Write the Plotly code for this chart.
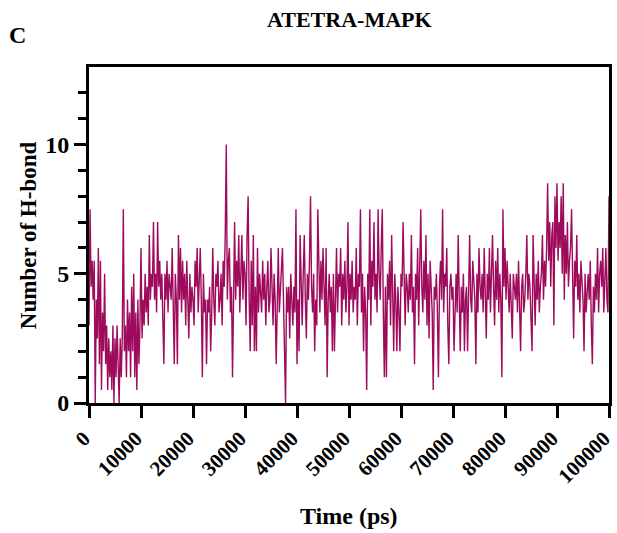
import plotly.graph_objects as go

TIME_STEP_PS = 200

seg_00000 = [3, 7.5, 4.5, 5.5, 4, 5.5, 0, 4, 2.5, 6,
             1.5, 5.5, 0.5, 3.5, 2, 5, 1.5, 3, 0.5, 2.5,
             1, 2, 0.5, 3, 0, 2.5, 1, 3, 1.5, 0,
             2.5, 1, 2.5, 7.5, 2, 3, 1, 4, 2, 3.5,
             1, 4.5, 2, 5, 1, 3.5, 0.5, 4, 1.5, 3]
seg_10000 = [6, 2.5, 4, 3, 5, 3.5, 4.5, 3, 6.5, 4,
             5, 4.5, 7, 4, 5, 3.5, 7, 4.5, 5.5, 4,
             5, 3.5, 1.5, 5, 4, 5.5, 3.5, 5, 4.5, 4,
             6, 3, 1.5, 5, 4, 1.5, 6.5, 4, 6, 3.5,
             5.5, 4, 5, 3, 5.5, 4, 2.5, 5, 3.5, 4.5]
seg_20000 = [4, 3, 5.5, 4.5, 6, 3.5, 5, 6, 4, 1,
             5, 3.5, 4, 1.5, 4, 3.5, 4.5, 2, 3.5, 6,
             4, 3, 5, 4.5, 5.5, 3.5, 4, 5, 3, 5.5,
             4.5, 6.5, 10, 4, 5.5, 6, 3.5, 4.5, 1, 5,
             7, 4, 5.5, 4.5, 6.5, 3.5, 5, 6.5, 4, 5.5]
seg_30000 = [5, 3, 6.5, 8, 4, 2, 5.5, 3, 6.5, 2,
             4.5, 2, 6, 3.5, 5, 4, 3.5, 5.5, 4, 5,
             3, 4.5, 5.5, 3.5, 4, 6, 4.5, 3, 5, 4,
             1.5, 5, 6, 3.5, 4.5, 5, 6, 4, 2, 0,
             4.5, 3.5, 4.5, 2.5, 5, 4, 3, 4.5, 3.5, 7.5]
seg_40000 = [1.5, 4, 2, 6.5, 4.5, 3, 5, 6.5, 4, 2.5,
             5, 4, 5.5, 8, 4.5, 3.5, 5, 2, 4, 3,
             7.5, 4.5, 3.5, 5.5, 4, 6, 4.5, 3, 6, 1,
             4, 5, 3.5, 4.5, 2, 5, 2, 4, 6, 3.5,
             5, 4.5, 6, 3, 5, 4, 5.5, 3.5, 4.5, 7]
seg_50000 = [3, 5, 4, 5.5, 3.5, 4.5, 4, 6, 3, 5,
             4.5, 7.5, 3.5, 5, 2, 4.5, 3.5, 0.5, 5, 4,
             7.5, 3, 5.5, 4.5, 7, 4, 5, 3.5, 7.5, 5,
             4, 6, 7.5, 3.5, 1, 4.5, 1, 5, 4, 5.5,
             3, 6.5, 4.5, 2, 5, 4, 2, 4.5, 3.5, 2]
seg_60000 = [5, 4.5, 7, 4, 3, 5, 4.5, 3.5, 5, 4,
             6.5, 3.5, 4.5, 1.5, 5, 4, 6, 3, 5, 7.5,
             4.5, 3.5, 5.5, 4, 6.5, 3, 5, 2.5, 5.5, 4,
             3.5, 0.5, 4.5, 4, 5, 3.5, 1, 4.5, 5.5, 4,
             7.5, 3.5, 5, 4.5, 6, 3, 1.5, 4.5, 5, 4]
seg_70000 = [4.5, 2, 4, 5, 3.5, 6.5, 4, 2, 4.5, 3.5,
             5, 2, 4, 4.5, 2, 5, 6.5, 4, 3.5, 5.5,
             4.5, 4, 1.5, 5, 3.5, 6, 4.5, 4, 5, 3.5,
             6, 4.5, 2.5, 5, 4, 6, 3.5, 5, 6.5, 4.5,
             3, 5.5, 4, 6, 3.5, 5, 4, 1, 7.5, 4.5]
seg_80000 = [6, 4, 5.5, 4.5, 3.5, 5, 4, 2.5, 5, 4.5,
             4, 5, 3.5, 5.5, 4, 2, 4.5, 5, 3.5, 4,
             5, 6.5, 4, 5, 4.5, 3.5, 2, 6.5, 4.5, 3,
             5, 4, 5.5, 3.5, 4.5, 5, 6.5, 4, 5.5, 4.5,
             6, 8.5, 5.5, 7, 4.5, 6.5, 7, 3, 8, 6]
seg_90000 = [8.5, 5.5, 7, 6, 8, 5, 8.5, 4, 6.5, 5,
             7, 4.5, 5.5, 6, 7.5, 4, 2.5, 5.5, 4.5, 6.5,
             4, 5, 3.5, 5.5, 4.5, 4, 2, 5, 3.5, 4.5,
             5, 4, 5.5, 3, 1.5, 4.5, 3.5, 5, 4, 6,
             3.5, 5, 5.5, 4.5, 6, 3.5, 5, 6, 4, 3.5, 8]

hbonds = (seg_00000 + seg_10000 + seg_20000 + seg_30000 + seg_40000 +
          seg_50000 + seg_60000 + seg_70000 + seg_80000 + seg_90000)
time_ps = [i * TIME_STEP_PS for i in range(len(hbonds))]

x_tickvals = [0, 10000, 20000, 30000, 40000, 50000, 60000, 70000, 80000, 90000, 100000]
y_tickvals = [0, 5, 10]
y_minorvals = [1, 2, 3, 4, 6, 7, 8, 9, 11, 12]

FONT = "Liberation Serif"
LINE_COLOR = "#9E0B5C"

fig = go.Figure()
fig.add_trace(go.Scatter(x=time_ps, y=hbonds, mode="lines",
                         line=dict(color=LINE_COLOR, width=1.4),
                         showlegend=False, hoverinfo="skip"))

fig.update_layout(
    width=617, height=533,
    margin=dict(l=89, r=8, t=67, b=130, autoexpand=False),
    paper_bgcolor="white", plot_bgcolor="white",
    font=dict(family=FONT, color="black"),
)
fig.update_xaxes(
    range=[0, 100000], tickvals=x_tickvals, ticktext=[str(v) for v in x_tickvals],
    tickangle=-45, ticks="outside", ticklen=12, tickwidth=2.5, tickcolor="black",
    showline=True, linewidth=3, linecolor="black", mirror=True,
    showgrid=False, zeroline=False, automargin=False, ticklabeloverflow="allow",
    ticklabelshift=-5,
    tickfont=dict(family=FONT, size=21, weight="bold", color="black"),
)
fig.update_yaxes(
    range=[0, 13], tickvals=y_tickvals, ticks="outside", ticklen=12, tickwidth=2.5,
    tickcolor="black",
    showline=True, linewidth=3, linecolor="black", mirror=True,
    showgrid=False, zeroline=False, automargin=False, ticklabeloverflow="allow",
    tickfont=dict(family=FONT, size=24, weight="bold", color="black"),
    minor=dict(tickvals=y_minorvals, ticks="outside", ticklen=8, tickwidth=2.5,
               tickcolor="black", showgrid=False),
)

annots = [
    dict(text="ATETRA-MAPK", x=0.5, y=1.14, size=22),
    dict(text="C", x=-0.138, y=1.095, size=24),
    dict(text="Time (ps)", x=0.5, y=-0.336, size=24),
]
for a in annots:
    fig.add_annotation(text=a["text"], xref="paper", yref="paper", x=a["x"], y=a["y"],
                       xanchor="center", yanchor="middle", showarrow=False,
                       font=dict(family=FONT, size=a["size"], weight="bold", color="black"))
fig.add_annotation(text="Number of H-bond", xref="paper", yref="paper", x=-0.117, y=0.5,
                   xanchor="center", yanchor="middle", showarrow=False, textangle=-90,
                   font=dict(family=FONT, size=23, weight="bold", color="black"))

fig.write_html("out.html")
